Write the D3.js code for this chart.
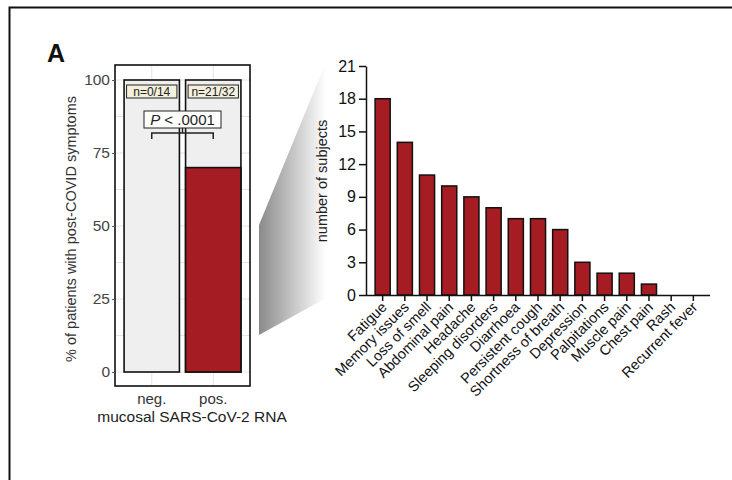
<!DOCTYPE html>
<html lang="en">
<head>
  <meta charset="UTF-8">
  <title>Post-COVID symptoms</title>
  <script src="https://cdn.jsdelivr.net/npm/d3@7"></script>
  <style>
    body { margin: 0; background: #fff; }
    text { font-family: "Liberation Sans", Arial, sans-serif; }
  </style>
</head>
<body>
<svg></svg>
<script>
  const width = 732, height = 480

  // left panel data
  const groups = ['neg.', 'pos.']
  const groupPct = [0, 70]
  const groupN = ['n=0/14', 'n=21/32']
  const pctTicks = [0, 25, 50, 75, 100]

  // right panel data
  const symptoms = ['Fatigue', 'Memory issues', 'Loss of smell', 'Abdominal pain', 'Headache',
    'Sleeping disorders', 'Diarrhoea', 'Persistent cough', 'Shortness of breath', 'Depression',
    'Palpitations', 'Muscle pain', 'Chest pain', 'Rash', 'Recurrent fever']
  const subjects = [18, 14, 11, 10, 9, 8, 7, 7, 6, 3, 2, 2, 1, 0, 0]
  const countTicks = [0, 3, 6, 9, 12, 15, 18, 21]

  const red = '#a51d23'
  const font = '"Liberation Sans", Arial, sans-serif'

  const svg = d3.select('svg')
      .attr('width', width)
      .attr('height', height)
      .attr('viewBox', [0, 0, width, height])

  // outer frame (runs off the right and bottom)
  svg.append('path')
      .attr('d', 'M9.5,490 V7.5 H745')
      .attr('fill', 'none')
      .attr('stroke', '#111')
      .attr('stroke-width', 2)

  svg.append('text')
      .attr('x', 47).attr('y', 62)
      .attr('font-size', 25).attr('font-weight', 'bold')
      .attr('fill', '#111')
      .text('A')

  //===== zoom wedge
  const grad = svg.append('defs').append('linearGradient')
      .attr('id', 'wedge').attr('x1', '0').attr('x2', '1').attr('y1', '0').attr('y2', '0')
  grad.append('stop').attr('offset', '0%').attr('stop-color', '#8a8a8a')
  grad.append('stop').attr('offset', '100%').attr('stop-color', '#ffffff')
  svg.append('path')
      .attr('d', 'M259,225 L326,62 L326,298 L259,335 Z')
      .attr('fill', 'url(#wedge)')

  //===== left panel
  const x1 = d3.scaleBand()
      .domain(groups)
      .range([121, 244])
      .paddingInner(0.1)
      .paddingOuter(0.05)

  const y1 = d3.scaleLinear()
      .domain([0, 100])
      .range([372, 80])

  const frame = {x0: 115, x1: 250, y0: 65, y1: 386}

  const left = svg.append('g')

  // grid
  left.append('g')
      .selectAll('line')
      .data(d3.range(0, 101, 12.5))
      .join('line')
      .attr('x1', frame.x0).attr('x2', frame.x1)
      .attr('y1', d => y1(d)).attr('y2', d => y1(d))
      .attr('stroke', '#e4e4e4').attr('stroke-width', 1)
  left.append('g')
      .selectAll('line')
      .data(groups)
      .join('line')
      .attr('x1', d => x1(d) + x1.bandwidth() / 2).attr('x2', d => x1(d) + x1.bandwidth() / 2)
      .attr('y1', frame.y0).attr('y2', frame.y1)
      .attr('stroke', '#e4e4e4').attr('stroke-width', 1)

  left.append('rect')
      .attr('x', frame.x0).attr('y', frame.y0)
      .attr('width', frame.x1 - frame.x0).attr('height', frame.y1 - frame.y0)
      .attr('fill', 'none').attr('stroke', '#111').attr('stroke-width', 1.6)

  // full background bars
  left.append('g')
      .selectAll('rect')
      .data(groups)
      .join('rect')
      .attr('x', d => x1(d))
      .attr('y', y1(100))
      .attr('width', x1.bandwidth())
      .attr('height', y1(0) - y1(100))
      .attr('fill', '#efefef')
      .attr('stroke', '#111').attr('stroke-width', 1.6)

  // positive share
  left.append('g')
      .selectAll('rect')
      .data(groups.map((g, i) => ({g, v: groupPct[i]})).filter(d => d.v > 0))
      .join('rect')
      .attr('x', d => x1(d.g))
      .attr('y', d => y1(d.v))
      .attr('width', x1.bandwidth())
      .attr('height', d => y1(0) - y1(d.v))
      .attr('fill', red)
      .attr('stroke', '#111').attr('stroke-width', 1.6)

  // n labels
  const nLab = left.append('g')
      .selectAll('g')
      .data(groups.map((g, i) => ({g, t: groupN[i]})))
      .join('g')
  nLab.append('rect')
      .attr('x', d => x1(d.g) + 2.5)
      .attr('y', y1(100) + 5)
      .attr('width', x1.bandwidth() - 5)
      .attr('height', 13)
      .attr('fill', '#f4f0dc')
      .attr('stroke', '#222').attr('stroke-width', 1)
  nLab.append('text')
      .attr('x', d => x1(d.g) + x1.bandwidth() / 2)
      .attr('y', y1(100) + 15.5)
      .attr('text-anchor', 'middle')
      .attr('font-size', 12)
      .attr('fill', '#222')
      .text(d => d.t)

  // significance bracket
  const cNeg = x1('neg.') + x1.bandwidth() / 2, cPos = x1('pos.') + x1.bandwidth() / 2
  const cMid = (cNeg + cPos) / 2
  left.append('path')
      .attr('d', `M${cNeg},139 V133 H${cPos} V139 M${cMid},133 V128`)
      .attr('fill', 'none').attr('stroke', '#222').attr('stroke-width', 1.5)
  left.append('rect')
      .attr('x', cMid - 38.5).attr('y', 111)
      .attr('width', 77).attr('height', 17)
      .attr('fill', '#fff').attr('stroke', '#222').attr('stroke-width', 1)
  const pText = left.append('text')
      .attr('x', cMid).attr('y', 124.5)
      .attr('text-anchor', 'middle')
      .attr('font-size', 15)
      .attr('fill', '#222')
  pText.append('tspan').attr('font-style', 'italic').text('P')
  pText.append('tspan').text(' < .0001')

  // y axis
  left.append('g')
      .attr('transform', `translate(${frame.x0},0)`)
      .call(d3.axisLeft(y1).tickValues(pctTicks).tickSize(3).tickPadding(2))
      .call(g => g.select('.domain').remove())
      .call(g => g.selectAll('line').attr('stroke', '#555'))
      .call(g => g.selectAll('text').attr('font-size', 15.5).attr('fill', '#444')
          .attr('font-family', font))

  // x labels
  left.append('g')
      .selectAll('text')
      .data(groups)
      .join('text')
      .attr('x', d => x1(d) + x1.bandwidth() / 2)
      .attr('y', 404)
      .attr('text-anchor', 'middle')
      .attr('font-size', 15)
      .attr('fill', '#333')
      .text(d => d)

  left.append('text')
      .attr('x', 192).attr('y', 422)
      .attr('text-anchor', 'middle')
      .attr('font-size', 15.5)
      .attr('fill', '#222')
      .text('mucosal SARS-CoV-2 RNA')

  left.append('text')
      .attr('transform', 'translate(76,229) rotate(-90)')
      .attr('text-anchor', 'middle')
      .attr('font-size', 14.5)
      .attr('fill', '#333')
      .text('% of patients with post-COVID symptoms')

  //===== right panel
  const x2 = d3.scaleBand()
      .domain(symptoms)
      .range([366, 710])
      .paddingInner(0.32)
      .paddingOuter(0.41)

  const y2 = d3.scaleLinear()
      .domain([0, 21])
      .range([295, 66])

  const right = svg.append('g')

  right.append('g')
      .selectAll('rect')
      .data(symptoms.map((s, i) => ({s, v: subjects[i]})).filter(d => d.v > 0))
      .join('rect')
      .attr('x', d => x2(d.s))
      .attr('y', d => y2(d.v))
      .attr('width', x2.bandwidth())
      .attr('height', d => y2(0) - y2(d.v))
      .attr('fill', red)
      .attr('stroke', '#111').attr('stroke-width', 1.5)

  right.append('g')
      .attr('transform', `translate(366,0)`)
      .call(d3.axisLeft(y2).tickValues(countTicks).tickSize(7).tickPadding(3).tickSizeOuter(0))
      .call(g => g.selectAll('line, .domain').attr('stroke', '#111').attr('stroke-width', 1.5))
      .call(g => g.selectAll('text').attr('font-size', 16).attr('fill', '#111')
          .attr('font-family', font))

  right.append('g')
      .attr('transform', `translate(0,295)`)
      .call(d3.axisBottom(x2).tickSize(6).tickSizeOuter(0))
      .call(g => g.select('.domain').attr('d', 'M366,0.5H710'))
      .call(g => g.selectAll('line, .domain').attr('stroke', '#111').attr('stroke-width', 1.5))
      .call(g => g.selectAll('text')
          .attr('font-size', 14.5)
          .attr('fill', '#111')
          .attr('font-family', font)
          .attr('text-anchor', 'end')
          .attr('dy', null)
          .attr('y', 0)
          .attr('transform', 'translate(5,13) rotate(-45)'))

  right.append('text')
      .attr('transform', 'translate(327,181) rotate(-90)')
      .attr('text-anchor', 'middle')
      .attr('font-size', 14.5)
      .attr('fill', '#222')
      .text('number of subjects')
</script>
</body>
</html>
